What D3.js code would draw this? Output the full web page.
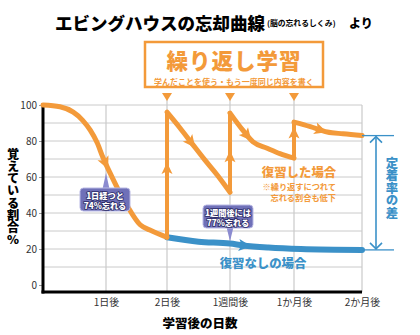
<!DOCTYPE html>
<html>
<head>
<meta charset="utf-8">
<script src="https://cdn.jsdelivr.net/npm/d3@7"></script>
<style>
  body { margin: 0; background: #fff; }
  svg { display: block; font-family: "Noto Sans CJK JP", "Noto Sans", sans-serif; }
</style>
</head>
<body>
<div id="chart"></div>
<script>
"use strict";

var width = 420, height = 335;

// axis ticks
var dayTicks  = [1, 2, 3, 4, 5];
var dayLabels = ["1日後", "2日後", "1週間後", "1か月後", "2か月後"];
var pctTicks  = [0, 20, 40, 60, 80, 100];
var gridPct   = [10, 20, 30, 40, 50, 60, 70, 80, 90, 100];

// first decay, shared by both cases  [day index, % remembered]
var decay = [[0, 100], [0.27, 99], [0.48, 96], [0.63, 91.5], [0.75, 86], [0.86, 79],
             [0.95, 71], [1.07, 62], [1.2, 53], [1.34, 44.5], [1.56, 33.5], [1.72, 30.5], [2, 26.5]];

// no review after day 2
var noReview = [[2, 26.5], [2.5, 24], [3, 23], [3.2, 22], [3.6, 20.8], [4.1, 20], [5, 19.5]];

// with review: one piece after each review session
var review1 = [[2, 96], [2.2, 87.5], [2.41, 78], [2.6, 69.5], [2.8, 61], [3, 51.5]];
var review2 = [[3, 95.5], [3.2, 86], [3.36, 79.5], [3.58, 76], [3.78, 73], [4, 70.5]];
var review3 = [[4, 90.5], [4.24, 88], [4.49, 85], [4.72, 84], [5, 83]];
var reviewDays = [2, 3, 4];

var orange = "#f39a3a", blue = "#3b91c8", grid = "#cacaca";

var svg = d3.select("#chart").append("svg")
  .attr("width", width)
  .attr("height", height);

// scales -- day ticks are not quite evenly spaced
var x = d3.scaleLinear().domain([0, 1, 2, 3, 4, 5]).range([43, 106, 167, 230, 294, 362]);
var y = d3.scaleLinear().domain([0, 100]).range([285, 105]);
var plotBottom = 292;

// title
svg.append("text")
  .attr("x", 55).attr("y", 22)
  .attr("dominant-baseline", "central")
  .attr("font-size", 17.5).attr("font-weight", 900)
  .text("エビングハウスの忘却曲線");
svg.append("text")
  .attr("x", 267).attr("y", 22.5)
  .attr("dominant-baseline", "central")
  .attr("font-size", 7.8).attr("font-weight", 700)
  .text("(脳の忘れるしくみ)");
svg.append("text")
  .attr("x", 349).attr("y", 22)
  .attr("dominant-baseline", "central")
  .attr("font-size", 12).attr("font-weight", 900)
  .text("より");

// review box
svg.append("rect")
  .attr("x", 145).attr("y", 42).attr("width", 178).attr("height", 45)
  .attr("fill", "#fff").attr("stroke", orange).attr("stroke-width", 2.5);
svg.append("text")
  .attr("x", 234).attr("y", 59.5)
  .attr("text-anchor", "middle").attr("dominant-baseline", "central")
  .attr("font-size", 21.5).attr("font-weight", 900).attr("fill", orange)
  .attr("letter-spacing", 1)
  .text("繰り返し学習");
svg.append("text")
  .attr("x", 234).attr("y", 81)
  .attr("text-anchor", "middle").attr("dominant-baseline", "central")
  .attr("font-size", 8).attr("font-weight", 700).attr("fill", orange)
  .text("学んだことを使う・もう一度同じ内容を書く");

// grid
svg.append("g").selectAll("line").data(gridPct).join("line")
  .attr("x1", x(0)).attr("x2", x(5))
  .attr("y1", function(d) { return y(d); })
  .attr("y2", function(d) { return y(d); })
  .attr("stroke", grid).attr("stroke-width", 1);
svg.append("g").selectAll("line").data(dayTicks).join("line")
  .attr("x1", function(d) { return x(d); })
  .attr("x2", function(d) { return x(d); })
  .attr("y1", function(d) { return reviewDays.indexOf(d) >= 0 ? 97 : y(100); })
  .attr("y2", plotBottom)
  .attr("stroke", grid).attr("stroke-width", 1.2);

// axes
var yAxis = svg.append("g")
  .attr("transform", "translate(" + x(0) + ",0)")
  .call(d3.axisLeft(y).tickValues(pctTicks).tickSize(4).tickPadding(2));
var xAxis = svg.append("g")
  .attr("transform", "translate(0," + plotBottom + ")")
  .call(d3.axisBottom(x).tickValues(dayTicks)
    .tickFormat(function(d, i) { return dayLabels[i]; })
    .tickSize(0).tickPadding(7));
[yAxis, xAxis].forEach(function(g) {
  g.attr("font-family", null).attr("font-size", 10);
  g.select(".domain").remove();
  g.selectAll(".tick line").attr("stroke", "#999");
  g.selectAll(".tick text").attr("fill", "#333");
});

svg.append("line")
  .attr("x1", x(0)).attr("x2", x(0)).attr("y1", y(100)).attr("y2", plotBottom + 1.5)
  .attr("stroke", "#000").attr("stroke-width", 3);
svg.append("line")
  .attr("x1", x(0) - 1.5).attr("x2", x(5)).attr("y1", plotBottom).attr("y2", plotBottom)
  .attr("stroke", "#000").attr("stroke-width", 3);

// axis titles
svg.append("text")
  .attr("x", 13).attr("y", 148)
  .style("writing-mode", "vertical-rl").style("text-orientation", "upright")
  .attr("font-size", 12.2).attr("font-weight", 900)
  .text("覚えている割合%");
svg.append("text")
  .attr("x", 200).attr("y", 322)
  .attr("text-anchor", "middle").attr("dominant-baseline", "central")
  .attr("font-size", 12.5).attr("font-weight", 900)
  .text("学習後の日数");

// curves
var line = d3.line()
  .x(function(d) { return x(d[0]); })
  .y(function(d) { return y(d[1]); })
  .curve(d3.curveMonotoneX);

function arrowHead(px, py, angle, color, s) {
  svg.append("path")
    .attr("d", "M" + (s * 1.1) + ",0L" + (-s) + "," + (-s) + "L" + (-s * 0.5) + ",0L" + (-s) + "," + s + "Z")
    .attr("transform", "translate(" + px + "," + py + ") rotate(" + angle + ")")
    .attr("fill", color);
}

function curveArrow(node, frac, color, s) {
  var len = node.getTotalLength();
  var p = node.getPointAtLength(len * frac);
  var q = node.getPointAtLength(len * frac + 1);
  arrowHead(p.x, p.y, Math.atan2(q.y - p.y, q.x - p.x) * 180 / Math.PI, color, s);
}

var blueLine = svg.append("path")
  .datum(noReview)
  .attr("d", line)
  .attr("fill", "none").attr("stroke", blue).attr("stroke-width", 6)
  .attr("stroke-linecap", "round");
curveArrow(blueLine.node(), 0.4, blue, 6);

var pieces = [decay, review1, review2, review3];
var arrowFrac = [0.48, 0.38, 0.35, 0.4];
pieces.forEach(function(p, i) {
  var path = svg.append("path")
    .datum(p)
    .attr("d", line)
    .attr("fill", "none").attr("stroke", orange).attr("stroke-width", 5)
    .attr("stroke-linecap", "round").attr("stroke-linejoin", "round");
  curveArrow(path.node(), arrowFrac[i], orange, 6);
});

// jumps at each review
var jumpFrac = [0.55, 0.45, 0.7];
reviewDays.forEach(function(d, i) {
  var from = pieces[i][pieces[i].length - 1][1];
  var to = pieces[i + 1][0][1];
  svg.append("line")
    .attr("x1", x(d)).attr("x2", x(d))
    .attr("y1", y(from)).attr("y2", y(to))
    .attr("stroke", orange).attr("stroke-width", 4)
    .attr("stroke-linecap", "round");
  arrowHead(x(d), y(from + (to - from) * jumpFrac[i]), -90, orange, 5.5);
  // review marker above the plot
  svg.append("path")
    .attr("d", "M" + (x(d) - 5) + ",93L" + (x(d) + 5) + ",93L" + x(d) + ",101Z")
    .attr("fill", orange);
});

// callouts
function callout(bx, by, lines, tipX, tipY) {
  var g = svg.append("g");
  var bw = 50, bh = 23;
  var up = tipY < by;
  var baseY = up ? by + 1 : by + bh - 1;
  g.append("path")
    .attr("d", "M" + (tipX - 3.5) + "," + baseY + "L" + tipX + "," + tipY + "L" + (tipX + 3.5) + "," + baseY + "Z")
    .attr("fill", "#8b8bd0");
  g.append("rect")
    .attr("x", bx).attr("y", by).attr("width", bw).attr("height", bh)
    .attr("rx", 3.5)
    .attr("fill", "#6f70b8").attr("stroke", "#b9b9e4").attr("stroke-width", 1);
  g.selectAll("text").data(lines).join("text")
    .attr("x", bx + bw / 2)
    .attr("y", function(d, i) { return by + 6.5 + i * 10.5; })
    .attr("text-anchor", "middle").attr("dominant-baseline", "central")
    .attr("font-size", 8.2).attr("font-weight", 900)
    .attr("fill", "#fff").attr("stroke", "#2c2c66").attr("stroke-width", 1.6)
    .attr("paint-order", "stroke")
    .text(function(d) { return d; });
}
callout(80, 188, ["1日経つと", "74%忘れる"], x(1), 173);
callout(203, 205, ["1週間後には", "77%忘れる"], x(3), y(23) - 2);

// case labels
svg.append("text")
  .attr("x", 299).attr("y", 172)
  .attr("text-anchor", "middle").attr("dominant-baseline", "central")
  .attr("font-size", 12.4).attr("font-weight", 900).attr("fill", orange)
  .text("復習した場合");
svg.append("g").selectAll("text")
  .data(["※繰り返すにつれて", "忘れる割合も低下"]).join("text")
  .attr("x", 336)
  .attr("y", function(d, i) { return 185.5 + i * 11; })
  .attr("text-anchor", "end").attr("dominant-baseline", "central")
  .attr("font-size", 8.2).attr("font-weight", 700).attr("fill", orange)
  .text(function(d) { return d; });
svg.append("text")
  .attr("x", 263).attr("y", 263)
  .attr("text-anchor", "middle").attr("dominant-baseline", "central")
  .attr("font-size", 12.4).attr("font-weight", 900).attr("fill", blue)
  .text("復習なしの場合");

// difference between the two cases at 2 months
var topY = y(review3[review3.length - 1][1]);
var botY = y(noReview[noReview.length - 1][1]);
var ax = 376;
svg.append("g").selectAll("line").data([topY, botY]).join("line")
  .attr("x1", x(5)).attr("x2", 394)
  .attr("y1", function(d) { return d; }).attr("y2", function(d) { return d; })
  .attr("stroke", blue).attr("stroke-width", 1.3);
svg.append("line")
  .attr("x1", ax).attr("x2", ax).attr("y1", topY + 1).attr("y2", botY - 1)
  .attr("stroke", blue).attr("stroke-width", 1.6);
svg.append("path")
  .attr("d", "M" + (ax - 6) + "," + (topY + 7) + "L" + ax + "," + (topY + 1) + "L" + (ax + 6) + "," + (topY + 7) +
             "M" + (ax - 6) + "," + (botY - 7) + "L" + ax + "," + (botY - 1) + "L" + (ax + 6) + "," + (botY - 7))
  .attr("fill", "none").attr("stroke", blue).attr("stroke-width", 1.6);
svg.append("text")
  .attr("x", 392).attr("y", 157)
  .style("writing-mode", "vertical-rl").style("text-orientation", "upright")
  .attr("font-size", 12.4).attr("font-weight", 900).attr("fill", blue)
  .text("定着率の差");
</script>
</body>
</html>
